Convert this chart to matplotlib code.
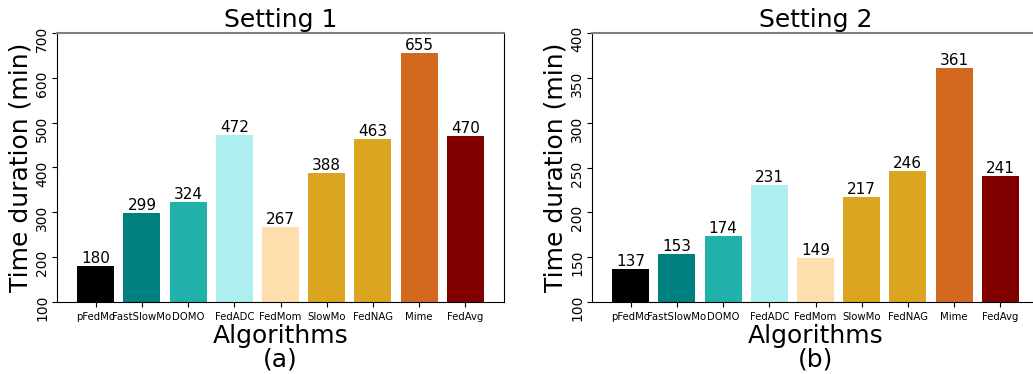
import matplotlib
matplotlib.use("Agg")
import matplotlib.pyplot as plt
from matplotlib.transforms import ScaledTranslation

algorithms = ["pFedMo", "FastSlowMo", "DOMO", "FedADC", "FedMom",
              "SlowMo", "FedNAG", "Mime", "FedAvg"]
setting1 = [180, 299, 324, 472, 267, 388, 463, 655, 470]
setting2 = [137, 153, 174, 231, 149, 217, 246, 361, 241]
bar_colors = ["black", "teal", "lightseagreen", "paleturquoise", "navajowhite",
              "goldenrod", "goldenrod", "chocolate", "maroon"]

W, H = 1033, 374
fig = plt.figure(figsize=(W / 100, H / 100), dpi=100)

# axes rectangles in pixels: left, top, right, bottom
boxes = [(57, 33, 504, 302), (592, 33, 1039, 302)]
panels = [
    (setting1, "Setting 1", "(a)", (100, 700), range(100, 701, 100)),
    (setting2, "Setting 2", "(b)", (100, 400), range(100, 401, 50)),
]

# rotated y tick labels sit a little below their ticks
shift = ScaledTranslation(0, -6 / 100, fig.dpi_scale_trans)

for (l, t, r, b), (vals, title, tag, ylim, ticks) in zip(boxes, panels):
    ax = fig.add_axes([l / W, 1 - b / H, (r - l) / W, (b - t) / H])
    bars = ax.bar(algorithms, vals, color=bar_colors, width=0.8)
    for rect, v in zip(bars, vals):
        ax.text(rect.get_x() + rect.get_width() / 2, v, str(v),
                ha="center", va="bottom", fontsize=11)
    ax.set_ylim(*ylim)
    ax.set_yticks(list(ticks))
    ax.tick_params(axis="y", labelrotation=90, labelsize=10, pad=2)
    for lab in ax.get_yticklabels():
        lab.set_va("center")
        lab.set_transform(lab.get_transform() + shift)
    ax.tick_params(axis="x", labelsize=7.3)
    ax.set_title(title, fontsize=18, pad=4)
    ax.set_ylabel("Time duration (min)", fontsize=18, labelpad=2)
    ax.set_xlabel("Algorithms\n" + tag, fontsize=18,
                  labelpad=2, linespacing=0.95)
    ax.spines["top"].set_color("gray")
    ax.spines["top"].set_linewidth(1.5)

fig.savefig("out.png", dpi=100)
